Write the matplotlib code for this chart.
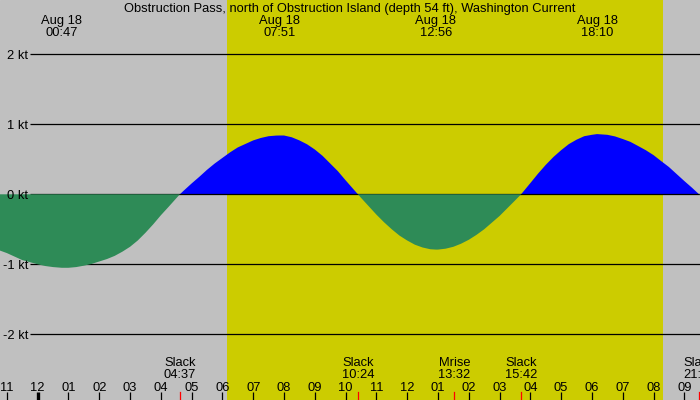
import matplotlib
matplotlib.use('Agg')
import matplotlib.pyplot as plt
import matplotlib.transforms as mtransforms
import numpy as np

plt.rcParams['font.family'] = ['Liberation Sans', 'DejaVu Sans']

# current curve, hours since midnight Aug 18 -> knots
hours = [-1.25, -1.0, -0.75, -0.5, -0.25, 0.0, 0.25, 0.5, 0.783, 1.0, 1.25, 1.5, 1.75, 2.0,
         2.25, 2.5, 2.75, 3.0, 3.25, 3.5, 3.75, 4.0, 4.25, 4.617,
         4.75, 5.0, 5.25, 5.5, 5.75, 6.0, 6.25, 6.5, 6.75, 7.0, 7.25, 7.5, 7.75, 7.85,
         8.0, 8.25, 8.5, 8.75, 9.0, 9.25, 9.5, 9.75, 10.0, 10.2, 10.4,
         10.5, 10.75, 11.0, 11.25, 11.5, 11.75, 12.0, 12.25, 12.5, 12.75, 12.933,
         13.0, 13.25, 13.5, 13.75, 14.0, 14.25, 14.5, 14.75, 15.0, 15.25, 15.5, 15.7,
         16.0, 16.25, 16.5, 16.75, 17.0, 17.25, 17.5, 17.75, 18.0, 18.167,
         18.5, 18.75, 19.0, 19.25, 19.5, 19.75, 20.0, 20.25, 20.5, 20.75, 21.0, 21.25, 21.48, 21.6]
speed = [-0.80, -0.84, -0.89, -0.94, -0.97, -1.00, -1.025, -1.04, -1.05, -1.05, -1.04, -1.02, -0.995, -0.96,
         -0.925, -0.88, -0.82, -0.75, -0.66, -0.55, -0.43, -0.30, -0.18, 0.0,
         0.055, 0.155, 0.25, 0.35, 0.44, 0.52, 0.60, 0.67, 0.72, 0.77, 0.805, 0.83, 0.839, 0.84,
         0.84, 0.815, 0.77, 0.714, 0.64, 0.55, 0.44, 0.33, 0.20, 0.10, 0.0,
         -0.05, -0.17, -0.29, -0.40, -0.50, -0.59, -0.66, -0.72, -0.76, -0.785, -0.79,
         -0.79, -0.777, -0.75, -0.706, -0.65, -0.58, -0.50, -0.405, -0.31, -0.20, -0.09, 0.0,
         0.16, 0.295, 0.42, 0.533, 0.63, 0.717, 0.78, 0.83, 0.85, 0.86,
         0.85, 0.827, 0.79, 0.749, 0.69, 0.63, 0.56, 0.474, 0.39, 0.29, 0.19, 0.094, 0.0, -0.04]

# max/min current events (top labels)
peak_times = [0.783, 7.85, 12.933, 18.167]
peak_labels = ['00:47', '07:51', '12:56', '18:10']
peak_date = 'Aug 18'

# slack / moon events (bottom labels)
event_times = [4.617, 10.4, 13.533, 15.7, 21.48]
event_names = ['Slack', 'Slack', 'Mrise', 'Slack', 'Slack']
event_labels = ['04:37', '10:24', '13:32', '15:42', '21:29']

# daylight
sunrise = 6.14
sunset = 20.32

kt_levels = [2, 1, 0, -1, -2]
hour_ticks = list(range(-1, 22))
hour_labels = ['11', '12', '01', '02', '03', '04', '05', '06', '07', '08', '09', '10',
               '11', '12', '01', '02', '03', '04', '05', '06', '07', '08', '09']

title = 'Obstruction Pass, north of Obstruction Island (depth 54 ft), Washington Current'

# ------- figure -------
W, H = 700, 400
fig = plt.figure(figsize=(7, 4), dpi=100)
ax = fig.add_axes([0, 0, 1, 1])
ax.set_xlim(-1.224, 21.51)
ax.set_ylim(-2.939, 2.776)
ax.axis('off')
ax.add_patch(plt.Rectangle((0, 0), 1, 1, transform=ax.transAxes, color='#c0c0c0', zorder=-2))

xd = mtransforms.blended_transform_factory(ax.transData, ax.transAxes)
ya = mtransforms.blended_transform_factory(ax.transAxes, ax.transData)

ax.axvspan(sunrise, sunset, color='#cccc00', zorder=0, lw=0)

t = np.array(hours)
v = np.array(speed)
fs = 9.3
ax.fill_between(t, v, 0, where=v >= 0, color='#0000ff', lw=0, zorder=1, interpolate=True)
for lv in kt_levels:
    ax.plot([30 / W, 1], [lv, lv], color='black', lw=0.9, transform=ya, zorder=2,
            solid_capstyle='butt')
    ax.text(28 / W, lv - 0.02, f'{lv} kt', transform=ya, ha='right', va='center',
            fontsize=fs, zorder=5)
ax.fill_between(t, v, 0, where=v <= 0, color='#2e8b57', lw=0, zorder=3, interpolate=True)

ax.text(0.5, 1 - 9 / H, title, transform=ax.transAxes, ha='center', va='center', fontsize=fs)
for pt, lab in zip(peak_times, peak_labels):
    ax.text(pt, 1 - 21 / H, peak_date, transform=xd, ha='center', va='center', fontsize=fs)
    ax.text(pt, 1 - 33 / H, lab, transform=xd, ha='center', va='center', fontsize=fs)

for et, nm, lab in zip(event_times, event_names, event_labels):
    ax.text(et, 1 - 363 / H, nm, transform=xd, ha='center', va='center', fontsize=fs)
    ax.text(et, 1 - 375 / H, lab, transform=xd, ha='center', va='center', fontsize=fs)
    ax.plot([et, et], [0, 8 / H], color='red', lw=0.9, transform=xd, zorder=4)

for h, lab in zip(hour_ticks, hour_labels):
    ax.text(h, 1 - 388 / H, lab, transform=xd, ha='center', va='center', fontsize=fs)
    ax.plot([h, h], [0, 8 / H], color='black', lw=2.4 if h == 0 else 0.9,
            transform=xd, zorder=4, solid_capstyle='butt')

fig.savefig('out.png', dpi=100)
